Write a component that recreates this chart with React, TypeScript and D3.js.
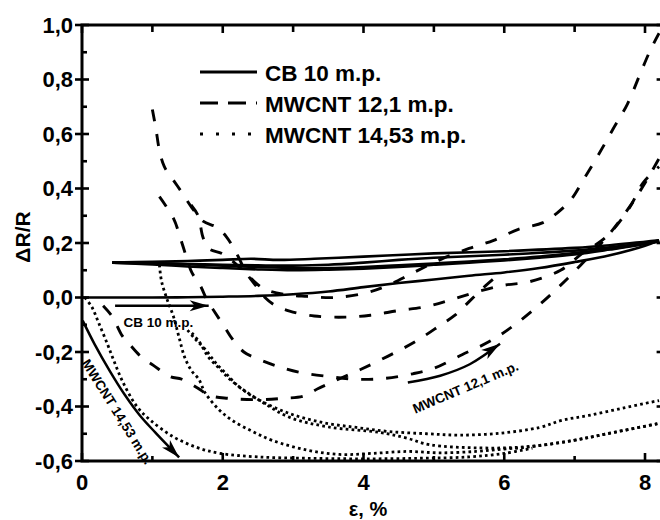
import React from 'react';
import * as d3 from 'd3';

type Pt = [number, number];

// Axis ticks
const xTicks = [0, 2, 4, 6, 8];
const xMinorTicks = [1, 3, 5, 7];
const yTicks = [-0.6, -0.4, -0.2, 0, 0.2, 0.4, 0.6, 0.8, 1.0];
const yMinorTicks = [-0.5, -0.3, -0.1, 0.1, 0.3, 0.5, 0.7, 0.9];

const legendLabels = ['CB 10 m.p.', 'MWCNT 12,1 m.p.', 'MWCNT 14,53 m.p.'];

// CB 10 m.p. — strain cycles (solid)
const cbCycle0: Pt[] = [[0, 0], [0.5, 0], [1, 0], [1.5, 0.001], [2, 0.003], [2.5, 0.006], [3, 0.012], [3.5, 0.022], [4, 0.038], [4.5, 0.053], [5, 0.066], [5.5, 0.08], [6, 0.092], [6.5, 0.108], [7, 0.13], [7.5, 0.155], [8, 0.19], [8.2, 0.21]];
const cbUnload1: Pt[] = [[8.2, 0.21], [7.5, 0.192], [7, 0.182], [6, 0.17], [5, 0.162], [4.5, 0.156], [4, 0.15], [3.3, 0.142], [2.8, 0.138], [2.4, 0.142], [2, 0.138], [1.5, 0.134], [1, 0.131], [0.43, 0.128]];
const cbLoad2: Pt[] = [[0.43, 0.128], [1, 0.126], [1.5, 0.122], [2, 0.117], [2.5, 0.112], [3, 0.108], [3.5, 0.108], [4, 0.112], [4.5, 0.118], [5, 0.125], [5.5, 0.132], [6, 0.14], [6.5, 0.15], [7, 0.163], [7.5, 0.178], [8, 0.198], [8.2, 0.21]];
const cbUnload2: Pt[] = [[8.2, 0.205], [7.5, 0.184], [7, 0.172], [6.5, 0.164], [6, 0.157], [5, 0.146], [4.5, 0.138], [4, 0.128], [3.5, 0.12], [3, 0.117], [2.5, 0.118], [2, 0.12], [1.5, 0.123], [1, 0.126], [0.43, 0.128]];
const cbLoad3: Pt[] = [[0.43, 0.128], [1, 0.121], [1.5, 0.114], [2, 0.108], [2.5, 0.103], [3, 0.1], [3.5, 0.102], [4, 0.106], [4.5, 0.112], [5, 0.12], [5.5, 0.128], [6, 0.136], [6.5, 0.146], [7, 0.158], [7.5, 0.176], [8, 0.196], [8.2, 0.207]];

// MWCNT 12,1 m.p. — strain cycles (dashed)
const mw12First: Pt[] = [[1.0, 0.69], [1.05, 0.62], [1.1, 0.54], [1.17, 0.48], [1.3, 0.43], [1.42, 0.385], [1.56, 0.33], [1.72, 0.28], [1.92, 0.257], [2.06, 0.22], [2.2, 0.16], [2.34, 0.088], [2.49, 0.037], [2.6, 0.0], [2.75, -0.03], [2.95, -0.05], [3.3, -0.068], [3.75, -0.072], [4.1, -0.065], [4.5, -0.048], [4.9, -0.033], [5.25, -0.008], [5.6, 0.02], [6.0, 0.045], [6.36, 0.058], [6.8, 0.1], [7.1, 0.16], [7.46, 0.225], [7.78, 0.33], [7.97, 0.42], [8.2, 0.48]];
const mw12Second: Pt[] = [[1.1, 0.37], [1.3, 0.29], [1.42, 0.2], [1.49, 0.143], [1.56, 0.092], [1.68, 0.044], [1.78, -0.011], [1.89, -0.055], [2.03, -0.11], [2.13, -0.15], [2.3, -0.2], [2.45, -0.22], [2.75, -0.25], [3.1, -0.275], [3.5, -0.29], [3.9, -0.3], [4.3, -0.297], [4.7, -0.28], [5.0, -0.26], [5.4, -0.21], [5.8, -0.16], [6.15, -0.1], [6.55, -0.015], [6.9, 0.07], [7.2, 0.15], [7.5, 0.235], [7.8, 0.34], [8.0, 0.42], [8.2, 0.51]];
const mw12Third: Pt[] = [[1.55, 0.34], [1.65, 0.3], [1.72, 0.22], [1.8, 0.18], [2.0, 0.16], [2.2, 0.12], [2.4, 0.07], [2.6, 0.03], [2.9, 0.01], [3.2, 0.004], [3.6, 0.0], [4.05, 0.018], [4.35, 0.045], [4.7, 0.09], [5.1, 0.14], [5.5, 0.18], [5.85, 0.21], [6.2, 0.25], [6.55, 0.275], [6.75, 0.31], [6.95, 0.36], [7.12, 0.43], [7.33, 0.52], [7.55, 0.62], [7.75, 0.71], [7.93, 0.82], [8.08, 0.91], [8.2, 0.97]];
const mw12Fourth: Pt[] = [[0.3, -0.03], [0.43, -0.07], [0.57, -0.14], [0.67, -0.17], [0.85, -0.22], [1.02, -0.25], [1.25, -0.29], [1.42, -0.3], [1.63, -0.33], [1.82, -0.36], [2.08, -0.37], [2.5, -0.375], [2.85, -0.37], [3.15, -0.362], [3.35, -0.335], [3.6, -0.305], [3.95, -0.265], [4.35, -0.215], [4.75, -0.16], [5.1, -0.1], [5.3, -0.065], [5.5, -0.015], [5.7, 0.035], [5.9, 0.08]];

// MWCNT 14,53 m.p. — strain cycles (dotted)
const mw14First: Pt[] = [[0.04, 0.0], [0.14, -0.035], [0.24, -0.095], [0.36, -0.17], [0.45, -0.23], [0.58, -0.31], [0.78, -0.4], [0.97, -0.45], [1.29, -0.51], [1.63, -0.55], [1.96, -0.572], [2.5, -0.585], [3.2, -0.59], [4.0, -0.592], [4.8, -0.59], [5.5, -0.585], [6.0, -0.572], [6.4, -0.553]];
const mw14Second: Pt[] = [[1.1, 0.12], [1.13, 0.06], [1.2, 0.0], [1.3, -0.07], [1.38, -0.147], [1.46, -0.22], [1.56, -0.27], [1.66, -0.3], [1.75, -0.35], [1.94, -0.41], [2.13, -0.45], [2.41, -0.49], [2.71, -0.525], [3.2, -0.56], [3.66, -0.576], [4.13, -0.572], [4.62, -0.565], [5.08, -0.57], [5.6, -0.565], [6.0, -0.556], [6.3, -0.55], [6.97, -0.525], [7.46, -0.5], [8.2, -0.462]];
const mw14Third: Pt[] = [[1.5, -0.12], [1.6, -0.15], [1.75, -0.19], [1.9, -0.24], [2.05, -0.28], [2.24, -0.33], [2.53, -0.378], [2.95, -0.426], [3.42, -0.459], [3.9, -0.477], [4.37, -0.492], [4.9, -0.5], [5.37, -0.505], [5.94, -0.498], [6.5, -0.477], [6.83, -0.45], [7.2, -0.433], [7.7, -0.405], [8.2, -0.378]];
const mw14Fourth: Pt[] = [[1.56, -0.13], [1.66, -0.16], [1.8, -0.22], [1.95, -0.26], [2.1, -0.3], [2.3, -0.34], [2.6, -0.39], [2.95, -0.44], [3.5, -0.475], [4.23, -0.495], [4.6, -0.515], [4.94, -0.54], [5.65, -0.552], [6.3, -0.548], [6.97, -0.525], [7.46, -0.5], [8.2, -0.462]];

const cbCurves = [cbCycle0, cbUnload1, cbLoad2, cbUnload2, cbLoad3];
const mw12Curves = [mw12First, mw12Second, mw12Third, mw12Fourth];
const mw14Curves = [mw14First, mw14Second, mw14Third, mw14Fourth];

// Direction arrows (data units)
const arrowCB: Pt[] = [[0.47, -0.03], [1.8, -0.03]];
const arrowMw14: Pt[] = [[0.01, -0.085], [0.18, -0.172], [0.4, -0.272], [0.61, -0.358], [0.82, -0.432], [1.04, -0.495], [1.25, -0.552], [1.38, -0.587]];
const arrowMw12: Pt[] = [[4.63, -0.312], [5.09, -0.287], [5.51, -0.245], [5.94, -0.17]];

const FONT = '"Liberation Sans", Arial, Helvetica, sans-serif';

const fmt = (v: number) => d3.format('.1f')(v).replace('.', ',').replace('−', '-');

function arrowHead(tip: [number, number], from: [number, number], len = 19, hw = 5.5, notch = 14) {
  const dx = tip[0] - from[0];
  const dy = tip[1] - from[1];
  const n = Math.hypot(dx, dy) || 1;
  const ux = dx / n, uy = dy / n;
  const px = -uy, py = ux;
  const b1 = [tip[0] - ux * len + px * hw, tip[1] - uy * len + py * hw];
  const b2 = [tip[0] - ux * len - px * hw, tip[1] - uy * len - py * hw];
  const nc = [tip[0] - ux * notch, tip[1] - uy * notch];
  return `M${tip[0]},${tip[1]}L${b1[0]},${b1[1]}L${nc[0]},${nc[1]}L${b2[0]},${b2[1]}Z`;
}

export default function App() {
  const x = d3.scaleLinear().domain([0, 8.25]).range([82, 662.6]);
  const y = d3.scaleLinear().domain([-0.6, 1.0]).range([461, 25]);
  const [x0, x1] = x.range();
  const [y0, y1] = [y(1.0), y(-0.6)];

  const line = d3
    .line<Pt>()
    .x((d) => x(d[0]))
    .y((d) => y(d[1]))
    .curve(d3.curveCatmullRom.alpha(0.5));

  const straight = d3
    .line<Pt>()
    .x((d) => x(d[0]))
    .y((d) => y(d[1]));

  const headFor = (pts: Pt[], back = 2) => {
    const a = pts[pts.length - 1];
    const b = pts[Math.max(0, pts.length - back)];
    return arrowHead([x(a[0]), y(a[1])], [x(b[0]), y(b[1])]);
  };

  const lbl14: Pt = [0.5, -0.42];
  const lbl12: Pt = [5.45, -0.33];
  const lblCB: Pt = [1.087, -0.108];

  const legendY = [72, 103, 134];
  const legendDash = ['none', '18,10', '3,13'];

  return (
    <svg
      width={660}
      height={520}
      viewBox="0 0 660 520"
      style={{ position: 'absolute', left: 0, top: 0, background: '#fff' }}
      fontFamily={FONT}
      fontWeight="bold"
    >
      <defs>
        <clipPath id="plot-clip">
          <rect x={x0} y={y0} width={x1 - x0} height={y1 - y0} />
        </clipPath>
      </defs>

      <g clipPath="url(#plot-clip)" fill="none" stroke="#000">
        {cbCurves.map((c, i) => (
          <path key={`cb${i}`} d={line(c) || ''} strokeWidth={2.6} />
        ))}
        {mw12Curves.map((c, i) => (
          <path key={`m12${i}`} d={line(c) || ''} strokeWidth={2.9} strokeDasharray="12,13" />
        ))}
        {mw14Curves.map((c, i) => (
          <path key={`m14${i}`} d={line(c) || ''} strokeWidth={2.8} strokeDasharray="2.7,3.2" />
        ))}
      </g>

      {/* direction arrows */}
      <g stroke="#000" fill="none" strokeWidth={2.5}>
        <path d={straight(arrowCB) || ''} />
        <path d={line(arrowMw14) || ''} />
        <path d={line(arrowMw12) || ''} />
      </g>
      <g fill="#000">
        <path d={headFor(arrowCB)} />
        <path d={headFor(arrowMw14, 3)} />
        <path d={headFor(arrowMw12, 2)} />
      </g>
      <g fill="#000" fontSize={13.5}>
        <text x={x(lblCB[0])} y={y(lblCB[1])} textAnchor="middle">
          CB 10 m.p.
        </text>
        <text
          textAnchor="middle"
          dominantBaseline="central"
          transform={`translate(${x(lbl14[0])},${y(lbl14[1])}) rotate(58)`}
        >
          MWCNT 14,53 m.p.
        </text>
        <text
          textAnchor="middle"
          dominantBaseline="central"
          transform={`translate(${x(lbl12[0])},${y(lbl12[1])}) rotate(-23)`}
        >
          MWCNT 12,1 m.p.
        </text>
      </g>

      {/* frame */}
      <rect x={x0} y={y0} width={x1 - x0} height={y1 - y0} fill="none" stroke="#000" strokeWidth={3} />

      {/* ticks */}
      <g stroke="#000" strokeWidth={2.6}>
        {xTicks.map((t) => (
          <g key={`xt${t}`}>
            <line x1={x(t)} x2={x(t)} y1={y1} y2={y1 - 8} />
            <line x1={x(t)} x2={x(t)} y1={y0} y2={y0 + 8} />
          </g>
        ))}
        {xMinorTicks.map((t) => (
          <g key={`xm${t}`}>
            <line x1={x(t)} x2={x(t)} y1={y1} y2={y1 - 5} />
            <line x1={x(t)} x2={x(t)} y1={y0} y2={y0 + 7} />
          </g>
        ))}
        {yTicks.map((t) => (
          <g key={`yt${t}`}>
            <line x1={x0 - 7} x2={x0 + 7} y1={y(t)} y2={y(t)} />
            <line x1={x1} x2={x1 - 6} y1={y(t)} y2={y(t)} />
          </g>
        ))}
        {yMinorTicks.map((t) => (
          <g key={`ym${t}`}>
            <line x1={x0} x2={x0 + 5} y1={y(t)} y2={y(t)} />
          </g>
        ))}
      </g>

      {/* tick labels */}
      <g fill="#000" fontSize={22}>
        {xTicks.map((t) => (
          <text key={`xl${t}`} x={x(t)} y={490} textAnchor="middle">
            {t}
          </text>
        ))}
        {yTicks.map((t) => (
          <text key={`yl${t}`} x={73} y={y(t)} textAnchor="end" dominantBaseline="central">
            {fmt(t)}
          </text>
        ))}
      </g>

      {/* axis titles */}
      <text x={368} y={516} textAnchor="middle" fontSize={20} fill="#000">
        ε, %
      </text>
      <text
        transform={`translate(22,${(y0 + y1) / 2 - 6}) rotate(-90)`}
        textAnchor="middle"
        dominantBaseline="central"
        fontSize={21}
        fill="#000"
      >
        ΔR/R
      </text>

      {/* legend */}
      <g>
        {legendLabels.map((lab, i) => (
          <g key={lab}>
            <line
              x1={200}
              x2={257}
              y1={legendY[i]}
              y2={legendY[i]}
              stroke="#000"
              strokeWidth={2.8}
              strokeDasharray={legendDash[i]}
            />
            <text x={265} y={legendY[i] + 1} dominantBaseline="central" fontSize={22.5} fill="#000">
              {lab}
            </text>
          </g>
        ))}
      </g>
    </svg>
  );
}
